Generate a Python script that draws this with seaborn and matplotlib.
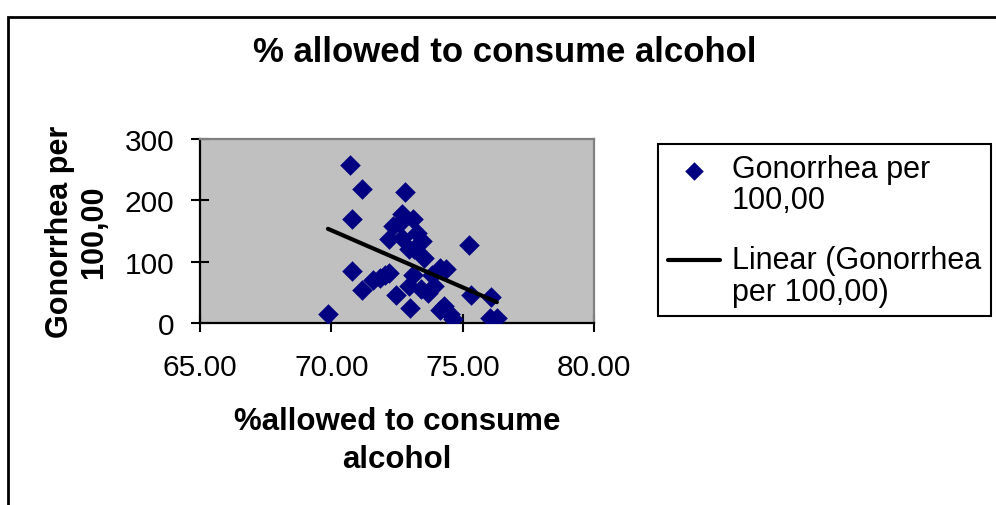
import numpy as np
import pandas as pd
import matplotlib
matplotlib.use("Agg")
import matplotlib.pyplot as plt
import seaborn as sns
from matplotlib.patches import Rectangle
from matplotlib.legend_handler import HandlerLine2D, HandlerPathCollection
from matplotlib.collections import PathCollection
from matplotlib.lines import Line2D

# ---- data ----
pct_allowed = [70.71, 71.15, 72.81, 70.77, 69.87, 70.77, 71.15, 71.60, 71.85, 72.05,
               72.20, 72.45, 73.00, 72.95, 73.10, 73.40, 73.68, 73.90, 73.82, 74.12,
               74.36, 73.52, 72.96, 73.14, 73.45, 73.25, 72.20, 72.68, 72.36, 72.60,
               72.68, 73.12, 74.12, 74.30, 74.62, 74.50, 75.25, 75.33, 76.08, 76.05,
               76.30]
gonorrhea = [258, 218, 213, 169, 14, 84, 53, 70, 74, 79,
             81, 45, 24, 60, 79, 56, 49, 60, 78, 90,
             88, 106, 120, 121, 134, 146, 137, 139, 158, 163,
             177, 170, 21, 27, 6, 15, 127, 45, 43, 8,
             8]
x_ticks = [65, 70, 75, 80]
y_ticks = [0, 100, 200, 300]
title = "% allowed to consume alcohol"
x_label = "%allowed to consume\nalcohol"
y_label = "Gonorrhea per\n100,00"
series_label = "Gonorrhea per\n100,00"
trend_label = "Linear (Gonorrhea\nper 100,00)"

df = pd.DataFrame({"x": pct_allowed, "y": gonorrhea})

sns.set_style("white")
plt.rcParams["font.family"] = ["Liberation Sans", "DejaVu Sans"]
plt.rcParams["text.color"] = "black"
plt.rcParams["axes.labelcolor"] = "black"
plt.rcParams["xtick.color"] = "black"
plt.rcParams["ytick.color"] = "black"

W, H = 996, 506
fig = plt.figure(figsize=(W / 100, H / 100), dpi=100)

# outer chart border (only left/top visible in reference)
fig.patches.append(Rectangle((8 / W, -0.2), 1.5, 1.2 - 18 / H, transform=fig.transFigure,
                             fill=False, edgecolor="black", linewidth=2.0))

ax = fig.add_axes([200 / W, 1 - 324 / H, 394 / W, 184 / H])
ax.set_facecolor("#C0C0C0")

sns.regplot(data=df, x="x", y="y", ax=ax, ci=None, marker="D",
            scatter_kws=dict(s=110, color="#000080", linewidths=0, alpha=1, zorder=3),
            line_kws=dict(color="black", linewidth=3.0, zorder=4))
ax.collections[0].set_label(series_label)
ax.lines[0].set_label(trend_label)

ax.set_xlim(65, 80)
ax.set_ylim(0, 300)
ax.set_xticks(x_ticks)
ax.set_xticklabels([f"{v:.2f}" for v in x_ticks])
ax.set_yticks(y_ticks)
ax.set_yticklabels([str(v) for v in y_ticks])
ax.tick_params(axis="both", which="major", direction="inout", length=13, width=1.5,
               color="black", labelsize=21.5, labelcolor="black",
               bottom=True, left=True, top=False, right=False)
ax.tick_params(axis="y", pad=12)
ax.tick_params(axis="x", pad=15)

for side in ("left", "bottom"):
    ax.spines[side].set_color("black")
    ax.spines[side].set_linewidth(1.6)
for side in ("top", "right"):
    ax.spines[side].set_color("#808080")
    ax.spines[side].set_linewidth(1.6)

ax.set_xlabel(x_label, fontsize=22.5, fontweight="bold", linespacing=1.35, labelpad=18)
ax.set_ylabel(y_label, fontsize=22, fontweight="bold", linespacing=1.2, labelpad=11)

fig.text(505 / W, 1 - 52 / H, title, ha="center", va="center",
         fontsize=25, fontweight="bold", color="black")

SHIFT = 0.55


class UpLine(HandlerLine2D):
    def create_artists(self, legend, orig_handle, xdescent, ydescent, width, height, fontsize, trans):
        arts = super().create_artists(legend, orig_handle, xdescent, ydescent, width, height, fontsize, trans)
        for a in arts:
            a.set_ydata(np.asarray(a.get_ydata(), dtype=float) + SHIFT * fontsize)
        return arts


class UpScatter(HandlerPathCollection):
    def get_ydata(self, legend, xdescent, ydescent, width, height, fontsize):
        yd = super().get_ydata(legend, xdescent, ydescent, width, height, fontsize)
        return np.asarray(yd, dtype=float) + SHIFT * fontsize


handles, labels = ax.get_legend_handles_labels()
leg = ax.legend(handles, labels, loc="upper left",
                bbox_to_anchor=(658 / W, 1 - 145 / H), bbox_transform=fig.transFigure,
                borderaxespad=0, fontsize=22, frameon=True, fancybox=False,
                edgecolor="black", framealpha=1, handlelength=1.7, handletextpad=0.4,
                borderpad=0.32, labelspacing=1.0, scatterpoints=1, markerscale=0.9,
                handler_map={Line2D: UpLine(), PathCollection: UpScatter()})
leg.get_frame().set_linewidth(1.5)
for t in leg.get_texts():
    t.set_linespacing(1.05)
    t.set_color("black")

fig.savefig("out.png", dpi=100)
